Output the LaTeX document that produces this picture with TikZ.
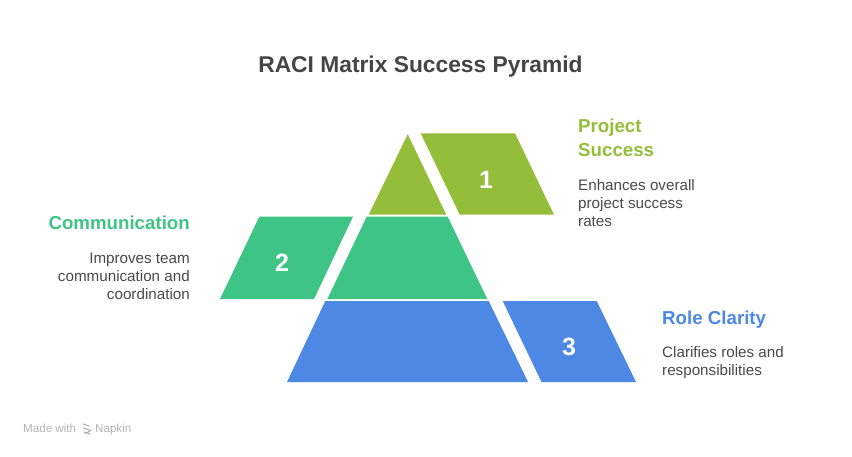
\documentclass[tikz,border=0pt]{standalone}
\usepackage{fontspec}
\setmainfont{Liberation Sans}
\definecolor{cTop}{HTML}{94BD3A}
\definecolor{cMid}{HTML}{3EC585}
\definecolor{cBot}{HTML}{4D88E4}
\definecolor{cTitle}{HTML}{454545}
\definecolor{cText}{HTML}{4A4A4A}
\definecolor{cNap}{HTML}{B4B4B4}
\tikzset{
  tier/.style={draw=none},
  num/.style={text=white,font=\bfseries\fontsize{25}{25}\selectfont,anchor=center,inner sep=0},
  head/.style={font=\bfseries\fontsize{18.7}{24.2}\selectfont,inner sep=0},
  desc/.style={text=cText,font=\fontsize{15.2}{17.8}\selectfont,inner sep=0}
}
\begin{document}
\begin{tikzpicture}[x=1pt,y=-1pt]
\useasboundingbox (0,0) rectangle (852,456);
\fill[white] (0,0) rectangle (852,456);
\node[text=cTitle,font=\bfseries\fontsize{22.8}{26}\selectfont,inner sep=0,anchor=base] (title) at (420.5,72) {RACI Matrix Success Pyramid};
% pyramid tiers
\fill[cTop] (407.7,134.3) -- (446.3,214.7) -- (368.7,214.7) -- cycle;
\fill[cMid] (366.7,216.7) -- (447.7,216.7) -- (487.3,299) -- (327.3,299) -- cycle;
\fill[cBot] (325.3,301) -- (488.7,301) -- (528,382) -- (287,382) -- cycle;
% parallelograms
\fill[cTop] (420.7,133.3) -- (515,133.3) -- (554,214.7) -- (459.7,214.7) -- cycle;
\fill[cMid] (259.3,216.7) -- (353,216.7) -- (314,299) -- (220,299) -- cycle;
\fill[cBot] (502.7,301) -- (596.7,301) -- (636,382) -- (541.5,382) -- cycle;
\node[num] (n1) at (486,180) {1};
\node[num] (n2) at (282,263) {2};
\node[num] (n3) at (569,347) {3};
% texts (base anchor = baseline of the last line)
\node[head,text=cTop,anchor=base west,align=left] (h1) at (578,156.7) {Project\\Success};
\node[desc,anchor=base west,align=left] (d1) at (578,226) {Enhances overall\\project success\\rates};
\node[head,text=cMid,anchor=base east,align=right] (h2) at (190,229) {Communication};
\node[desc,anchor=base east,align=right] (d2) at (190,299.3) {Improves team\\communication and\\coordination};
\node[head,text=cBot,anchor=base west,align=left] (h3) at (662,324.5) {Role Clarity};
\node[desc,anchor=base west,align=left] (d3) at (662,375) {Clarifies roles and\\responsibilities};
% footer
\node[text=cNap,font=\fontsize{11.6}{12}\selectfont,anchor=base west,inner sep=0] (made) at (23,432) {Made with};
\draw[cNap,line width=1.1pt,line cap=round] (83,424) -- (89,426) (83,428) -- (91,430.5) (84,432) -- (90,434) (85,433.5) -- (91,430.5);
\node[text=cNap,font=\fontsize{11.6}{12}\selectfont,anchor=base west,inner sep=0] (nap) at (95,432) {Napkin};
\end{tikzpicture}
\end{document}
